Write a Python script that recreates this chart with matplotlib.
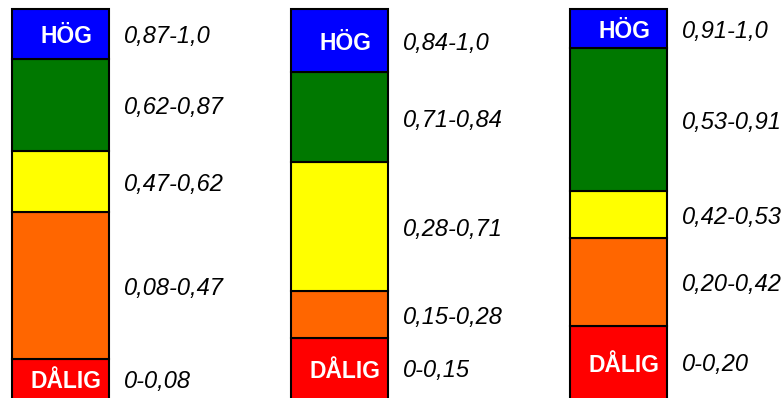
import matplotlib
matplotlib.use("Agg")
import matplotlib.pyplot as plt
import numpy as np

# Status classes, bottom to top
classes = ["DÅLIG", "", "", "", "HÖG"]
colors = ["#ff0000", "#ff6600", "#ffff00", "#007800", "#0000ff"]

# Range labels for each of the three columns (bottom to top)
ranges_1 = ["0-0,08", "0,08-0,47", "0,47-0,62", "0,62-0,87", "0,87-1,0"]
ranges_2 = ["0-0,15", "0,15-0,28", "0,28-0,71", "0,71-0,84", "0,84-1,0"]
ranges_3 = ["0-0,20", "0,20-0,42", "0,42-0,53", "0,53-0,91", "0,91-1,0"]

# Drawn segment heights, bottom to top
heights_1 = [45, 147, 61, 92.5, 49.5]
heights_2 = [66, 47, 129, 90, 63]
heights_3 = [78, 88, 47, 143, 39]

columns = [(ranges_1, heights_1), (ranges_2, heights_2), (ranges_3, heights_3)]
centers = [60, 339, 618]
bar_w = 97
base = -6
H = 398

fig = plt.figure(figsize=(7.83, 3.98), dpi=100)
ax = fig.add_axes([0, 0, 1, 1])
ax.set_xlim(0, 783)
ax.set_ylim(0, H)
ax.axis("off")

for xc, (ranges, heights) in zip(centers, columns):
    bottoms = base + np.concatenate([[0], np.cumsum(heights)[:-1]])
    ax.bar(xc, heights, bottom=bottoms, width=bar_w, color=colors,
           edgecolor="black", linewidth=1.5, zorder=2)
    for i, (rng, h, b) in enumerate(zip(ranges, heights, bottoms)):
        lo = max(b, 0)
        yc = (lo + b + h) / 2
        ax.text(xc + bar_w / 2 + 15, yc - 3, rng, ha="left", va="center",
                fontsize=17, style="italic", family="Liberation Sans",
                color="black")
        if classes[i]:
            ax.text(xc + 6, yc - 3, classes[i], ha="center", va="center",
                    fontsize=16.5, fontweight="bold",
                    family="Liberation Sans", color="white", zorder=3)

fig.savefig("out.png", dpi=100)
